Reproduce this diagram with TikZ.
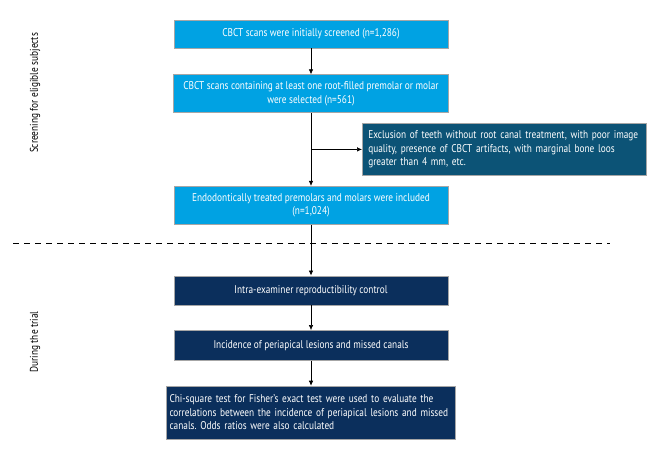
\documentclass[tikz,border=0pt]{standalone}
\usepackage{fontspec}
\setmainfont{PT Sans}[FakeStretch=0.83]
\usetikzlibrary{positioning,arrows.meta}

\definecolor{screenblue}{RGB}{0,162,227}
\definecolor{excltea}{RGB}{12,83,118}
\definecolor{trialnavy}{RGB}{11,47,92}

\tikzset{
  box/.style={rectangle, draw=gray!70, line width=0.6pt, text=white,
    minimum width=274pt, inner xsep=10pt, inner ysep=3pt, align=center,
    font=\fontsize{11.2}{13.5}\selectfont\frenchspacing},
  screenbox/.style={box, fill=screenblue},
  trialbox/.style={box, fill=trialnavy},
  exclbox/.style={box, fill=excltea, align=left, inner xsep=6pt, text width=272pt, minimum height=52pt},
  sidelabel/.style={rotate=90, font=\fontsize{11.2}{13.5}\selectfont},
  flow/.style={-{Latex[length=5pt,width=4.5pt]}, line width=0.6pt}
}

\begin{document}
\begin{tikzpicture}
  \useasboundingbox (0,0) rectangle (660pt,-456pt);

  % Define nodes
  \node[screenbox, minimum height=28pt] (initial) at (311pt,-34pt) {CBCT scans were initially screened (n=1,286)};
  \node[screenbox, minimum height=38pt, below=26pt of initial] (selected) {CBCT scans containing at least one root-filled premolar or molar\\were selected (n=561)};
  \node[screenbox, minimum height=38pt, below=73pt of selected] (included) {Endodontically treated premolars and molars were included\\(n=1,024)};
  \path (selected.south) -- (included.north) coordinate[midway] (split);
  \node[exclbox, right=51pt of split] (excluded) {Exclusion of teeth without root canal treatment, with poor image\\quality, presence of CBCT artifacts, with marginal bone loos\\greater than 4 mm, etc.};

  \node[trialbox, minimum height=29pt, below=51pt of included] (repro) {Intra-examiner reproductibility control};
  \node[trialbox, minimum height=30pt, below=25pt of repro] (incidence) {Incidence of periapical lesions and missed canals};
  \node[trialbox, align=left, inner xsep=3pt, text width=283pt, minimum height=53pt, below=25pt of incidence] (stats) {Chi-square test for Fisher's exact test were used to evaluate the\\correlations between the incidence of periapical lesions and missed\\canals. Odds ratios were also calculated};

  % Phase labels
  \node[sidelabel] (screenlbl) at (35pt,-93pt) {Screening for eligible subjects};
  \node[sidelabel] (triallbl) at (35pt,-342pt) {During the trial};
  \coordinate (dashl) at (13pt,-243pt);
  \coordinate (dashr) at (610pt,-243pt);

  % Connect the nodes
  \draw[flow] (initial) -- (selected);
  \draw[flow] (selected) -- (included);
  \draw[flow] (split) -- (excluded);
  \draw[flow] (included) -- (repro);
  \draw[flow] (repro) -- (incidence);
  \draw[flow] (incidence) -- (stats);
  \draw[line width=0.6pt, dash pattern=on 6pt off 5pt] (dashl) -- (dashr);

\end{tikzpicture}
\end{document}
